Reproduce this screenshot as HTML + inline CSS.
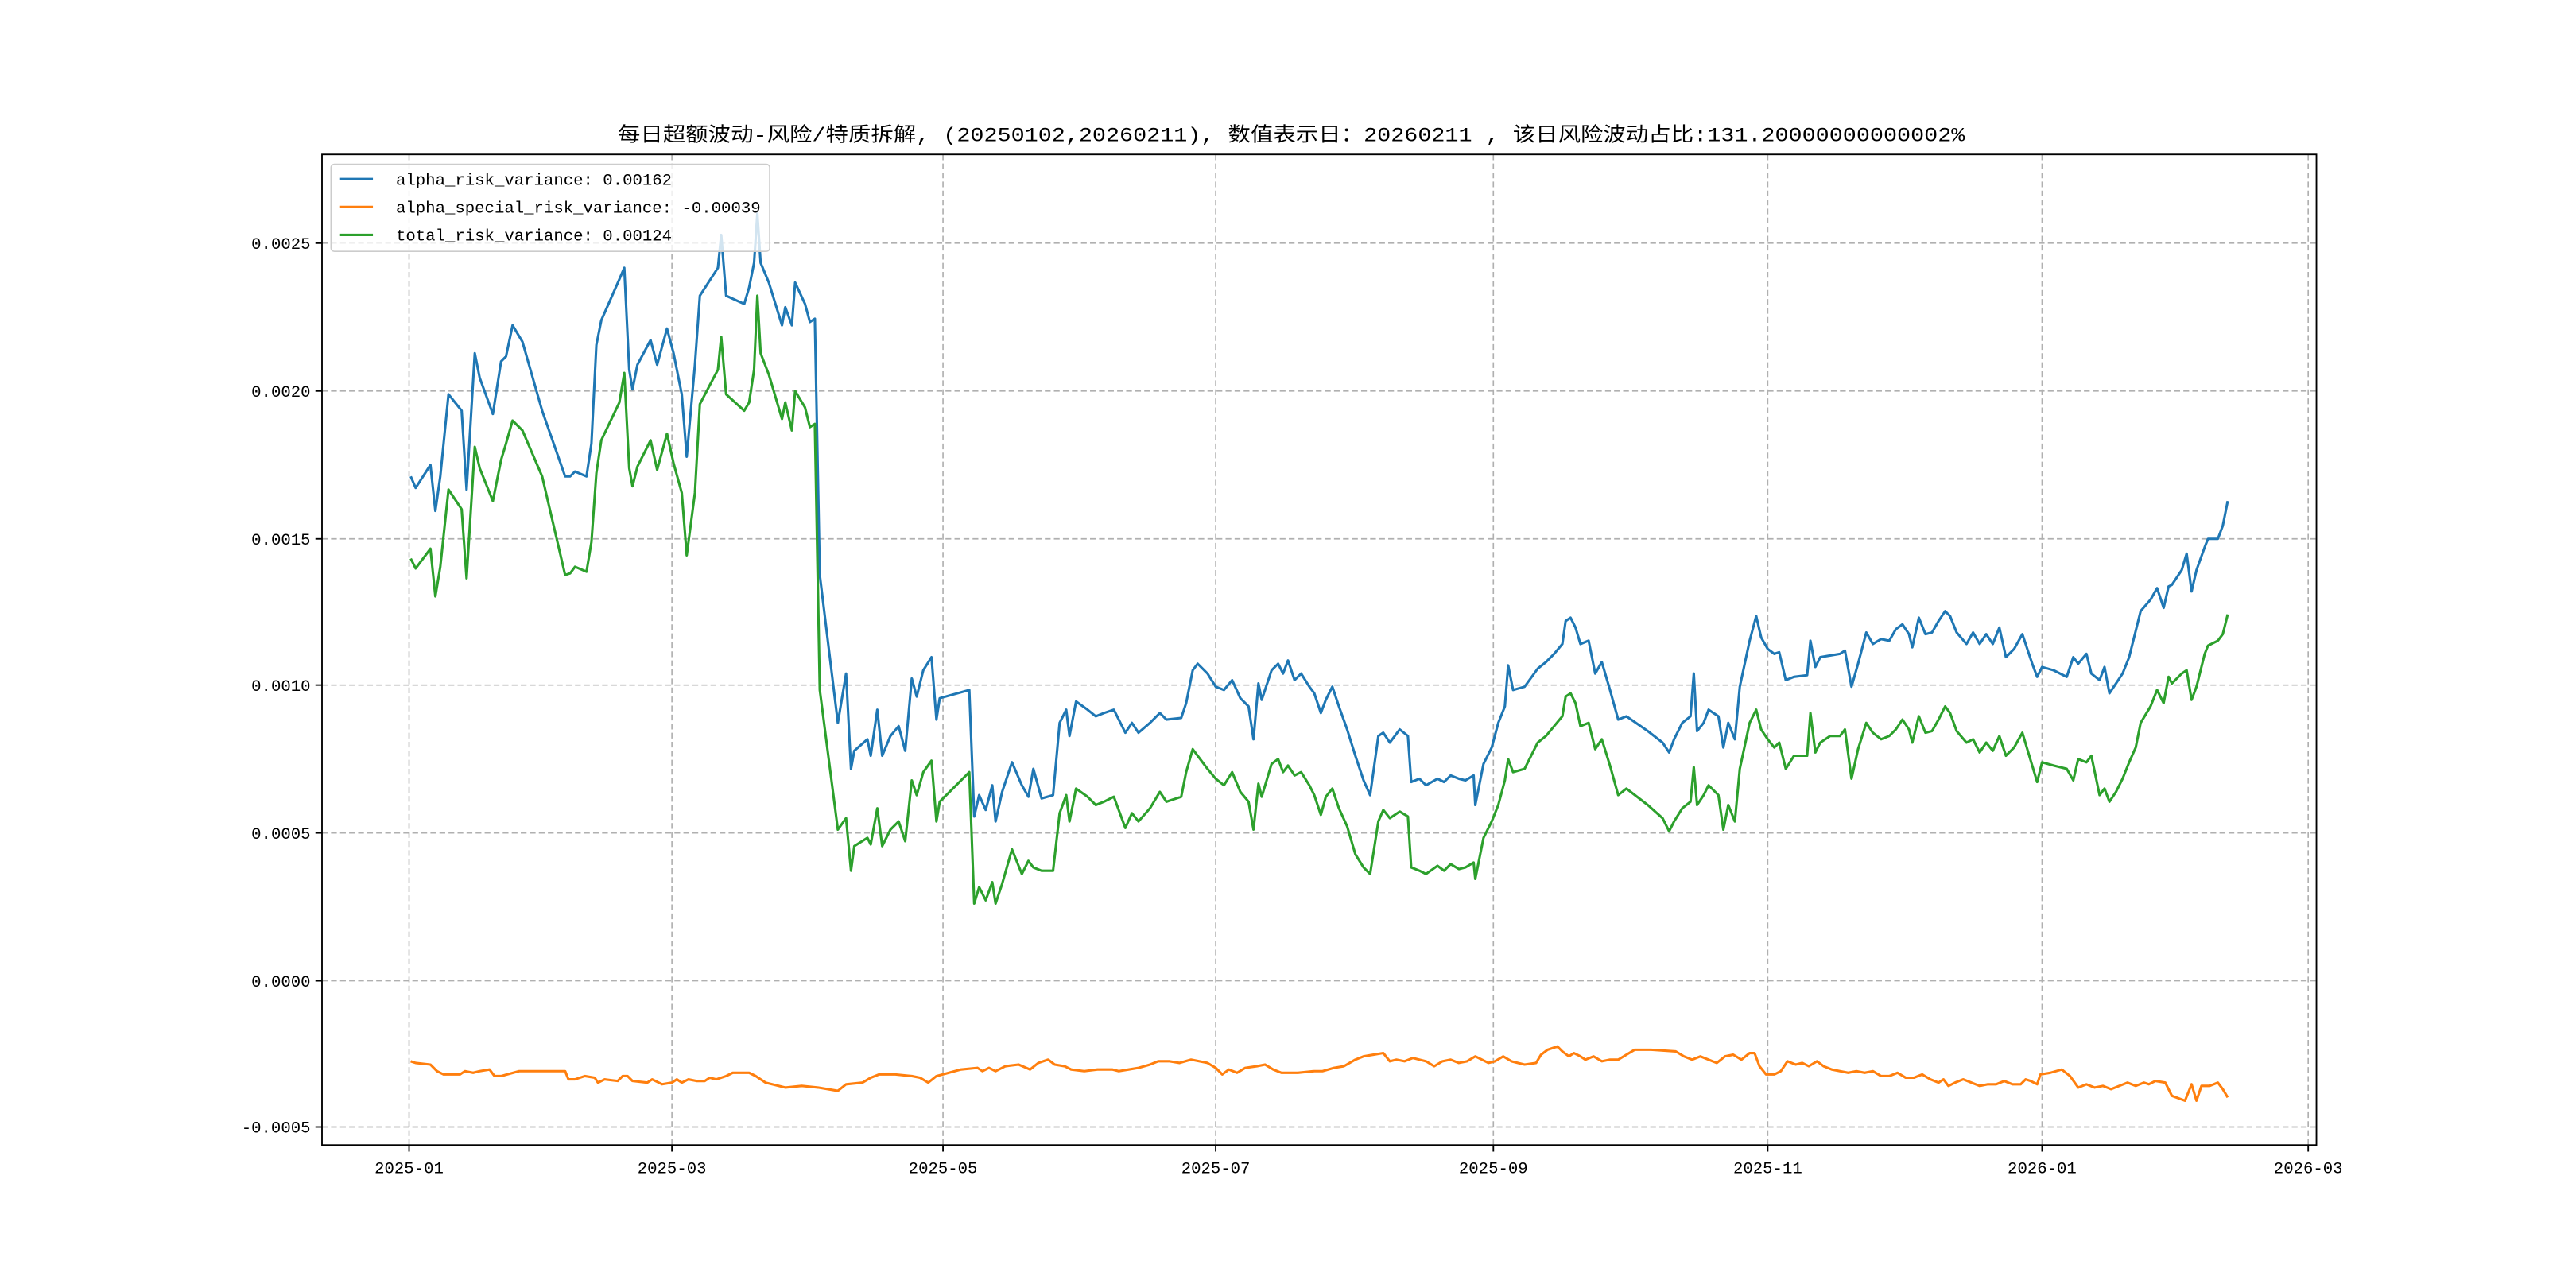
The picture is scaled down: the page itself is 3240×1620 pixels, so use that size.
<!DOCTYPE html>
<html><head><meta charset="utf-8"><style>html,body{margin:0;padding:0;background:#fff}svg{display:block}</style></head><body>
<svg width="3240" height="1620" viewBox="0 0 1568 784" xmlns="http://www.w3.org/2000/svg">
<rect width="1568" height="784" fill="#fff"/>
<g stroke="#b0b0b0" stroke-width="0.8" stroke-dasharray="3.5,2" fill="none">
<line x1="249" y1="94" x2="249" y2="697"/><line x1="409" y1="94" x2="409" y2="697"/><line x1="574" y1="94" x2="574" y2="697"/><line x1="740" y1="94" x2="740" y2="697"/><line x1="909" y1="94" x2="909" y2="697"/><line x1="1076" y1="94" x2="1076" y2="697"/><line x1="1243" y1="94" x2="1243" y2="697"/><line x1="1405" y1="94" x2="1405" y2="697"/>
<line x1="196" y1="148" x2="1410" y2="148"/><line x1="196" y1="238" x2="1410" y2="238"/><line x1="196" y1="328" x2="1410" y2="328"/><line x1="196" y1="417" x2="1410" y2="417"/><line x1="196" y1="507" x2="1410" y2="507"/><line x1="196" y1="597" x2="1410" y2="597"/><line x1="196" y1="686" x2="1410" y2="686"/>
</g>
<g fill="none" stroke-width="1.5" stroke-linejoin="round">
<polyline stroke="#1f77b4" points="250,290 253,297 262,283 265,311 268,290 273,240 281,250 284,298 289,215 292,230 300,252 305,220 308,217 312,198 318,208 330,250 344,290 347,290 350,287 357,290 360,270 363,210 366,195 377,170 380,163 383,225 385,237 388,222 396,207 400,222 406,200 410,215 415,240 418,278 423,222 426,180 437,163 439,143 442,180 453,185 456,175 459,160 461,130 463,160 468,172 476,198 478,187 482,198 484,172 490,185 493,196 496,194 499,350 510,440 515,410 518,468 520,457 528,450 530,460 534,432 537,460 542,448 547,442 551,457 555,413 558,424 562,408 567,400 570,438 572,425 590,420 593,497 596,484 600,493 604,478 606,500 610,482 616,464 622,478 626,485 629,468 634,486 641,484 645,440 649,432 651,448 655,427 662,432 667,436 672,434 678,432 685,446 689,440 693,446 700,440 706,434 710,438 719,437 722,428 726,408 729,404 735,410 740,418 745,420 750,414 755,425 760,430 763,450 766,416 768,426 774,408 778,404 781,410 784,402 788,414 792,410 797,418 800,422 804,434 807,426 811,418 815,430 820,444 825,460 830,475 834,484 839,448 842,446 846,452 852,444 857,448 859,476 864,474 868,478 875,474 879,476 883,472 888,474 892,475 897,472 898,490 903,465 908,455 912,440 916,430 918,405 921,420 928,418 936,407 941,403 946,398 951,392 953,378 956,376 959,382 962,392 967,390 971,410 975,403 980,420 985,438 990,436 1003,445 1012,452 1016,458 1019,450 1024,440 1029,436 1031,410 1033,445 1037,440 1040,432 1046,436 1049,455 1052,440 1056,450 1059,418 1065,390 1069,375 1072,388 1076,395 1080,398 1083,397 1087,414 1092,412 1100,411 1102,390 1105,406 1108,400 1114,399 1120,398 1123,396 1127,418 1131,404 1136,385 1140,392 1145,389 1150,390 1154,383 1158,380 1162,386 1164,394 1168,376 1172,386 1176,385 1180,378 1184,372 1187,375 1191,385 1197,392 1201,385 1205,392 1209,386 1213,392 1217,382 1221,400 1226,395 1231,386 1237,404 1240,412 1243,406 1250,408 1258,412 1262,400 1265,404 1270,398 1273,410 1278,414 1281,406 1284,422 1288,416 1292,410 1296,400 1300,384 1303,372 1309,365 1313,358 1317,370 1320,357 1322,356 1328,347 1331,337 1334,360 1337,347 1342,333 1344,328 1350,328 1353,320 1356,305"/>
<polyline stroke="#ff7f0e" points="250,646 253,647 262,648 266,652 270,654 275,654 280,654 283,652 288,653 292,652 298,651 301,655 305,655 316,652 344,652 346,657 350,657 356,655 362,656 364,659 368,657 376,658 379,655 382,655 385,658 394,659 397,657 403,660 409,659 412,657 415,659 419,657 424,658 429,658 432,656 436,657 442,655 446,653 456,653 460,655 466,659 470,660 478,662 488,661 498,662 510,664 515,660 525,659 530,656 535,654 545,654 555,655 560,656 565,659 570,655 585,651 595,650 598,652 602,650 606,652 612,649 620,648 627,651 632,647 638,645 642,648 648,649 652,651 660,652 668,651 677,651 681,652 687,651 693,650 700,648 705,646 712,646 718,647 725,645 735,647 740,650 744,654 748,651 753,653 758,650 765,649 770,648 775,651 780,653 790,653 800,652 805,652 812,650 818,649 825,645 830,643 836,642 842,641 846,646 850,645 855,646 860,644 868,646 873,649 878,646 883,645 888,647 893,646 898,643 902,645 906,647 910,646 915,643 920,646 928,648 935,647 938,642 942,639 948,637 951,640 955,643 958,641 962,643 965,645 970,643 975,646 980,645 985,645 990,642 995,639 1005,639 1020,640 1025,643 1030,645 1035,643 1040,645 1045,647 1050,643 1055,642 1060,645 1065,641 1068,641 1071,649 1075,654 1080,654 1084,652 1088,646 1093,648 1097,647 1101,649 1106,646 1110,649 1115,651 1120,652 1125,653 1130,652 1135,653 1140,652 1145,655 1150,655 1155,653 1160,656 1165,656 1170,654 1175,657 1180,659 1183,657 1186,661 1190,659 1195,657 1200,659 1205,661 1210,660 1215,660 1220,658 1225,660 1230,660 1233,657 1236,658 1240,660 1242,654 1248,653 1255,651 1260,655 1265,662 1270,660 1275,662 1280,661 1285,663 1290,661 1295,659 1300,661 1305,659 1308,660 1312,658 1318,659 1322,667 1330,670 1334,660 1337,670 1340,661 1345,661 1350,659 1353,663 1356,668"/>
<polyline stroke="#2ca02c" points="250,340 253,346 262,334 265,363 268,345 273,298 281,310 284,352 289,272 292,285 300,305 305,280 308,270 312,256 318,262 330,290 344,350 347,349 350,345 357,348 360,330 363,288 366,268 377,245 380,227 383,285 385,296 388,284 396,268 400,286 406,264 410,282 415,300 418,338 423,300 426,246 437,225 439,205 442,240 453,250 456,245 459,225 461,180 463,215 468,228 476,255 478,245 482,262 484,238 490,248 493,260 496,258 499,420 510,505 515,498 518,530 520,515 528,510 530,514 534,492 537,515 542,505 547,500 551,512 555,475 558,484 562,470 567,463 570,500 572,488 590,470 593,550 596,540 600,548 604,537 606,550 610,538 616,517 622,532 626,524 629,528 634,530 641,530 645,495 649,484 651,500 655,480 662,485 667,490 672,488 678,485 685,504 689,495 693,500 700,492 706,482 710,488 719,485 722,470 726,456 729,460 735,468 740,474 745,478 750,470 755,482 760,488 763,505 766,477 768,485 774,465 778,462 781,470 784,466 788,472 792,470 797,478 800,484 804,496 807,485 811,480 815,492 820,503 825,520 830,528 834,532 839,500 842,493 846,498 852,494 857,497 859,528 864,530 868,532 875,527 879,530 883,526 888,529 892,528 897,525 898,535 903,510 908,500 912,490 916,475 918,462 921,470 928,468 936,452 941,448 946,442 951,436 953,424 956,422 959,428 962,442 967,440 971,456 975,450 980,466 985,484 990,480 1003,490 1012,498 1016,506 1019,500 1024,492 1029,488 1031,467 1033,490 1037,484 1040,478 1046,484 1049,505 1052,490 1056,500 1059,468 1065,440 1069,432 1072,444 1076,450 1080,455 1083,452 1087,468 1092,460 1100,460 1102,434 1105,458 1108,452 1114,448 1120,448 1123,444 1127,474 1131,456 1136,440 1140,446 1145,450 1150,448 1154,444 1158,438 1162,444 1164,452 1168,436 1172,446 1176,445 1180,438 1184,430 1187,434 1191,445 1197,452 1201,450 1205,458 1209,452 1213,457 1217,448 1221,460 1226,455 1231,446 1237,466 1240,476 1243,464 1250,466 1258,468 1262,475 1265,462 1270,464 1273,460 1278,484 1281,480 1284,488 1288,482 1292,474 1296,464 1300,455 1303,440 1309,430 1313,420 1317,428 1320,412 1322,416 1328,410 1331,408 1334,426 1337,418 1342,398 1344,393 1350,390 1353,386 1356,374"/>
</g>
<rect x="196" y="94" width="1214" height="603" fill="none" stroke="#000" stroke-width="0.9"/>
<g stroke="#000" stroke-width="0.9">
<line x1="249" y1="697" x2="249" y2="701"/><line x1="409" y1="697" x2="409" y2="701"/><line x1="574" y1="697" x2="574" y2="701"/><line x1="740" y1="697" x2="740" y2="701"/><line x1="909" y1="697" x2="909" y2="701"/><line x1="1076" y1="697" x2="1076" y2="701"/><line x1="1243" y1="697" x2="1243" y2="701"/><line x1="1405" y1="697" x2="1405" y2="701"/>
<line x1="192" y1="148" x2="196" y2="148"/><line x1="192" y1="238" x2="196" y2="238"/><line x1="192" y1="328" x2="196" y2="328"/><line x1="192" y1="417" x2="196" y2="417"/><line x1="192" y1="507" x2="196" y2="507"/><line x1="192" y1="597" x2="196" y2="597"/><line x1="192" y1="686" x2="196" y2="686"/>
</g>
<g font-family="'Liberation Mono', monospace" font-size="10" fill="#000">
<g text-anchor="middle">
<text x="249" y="714">2025-01</text><text x="409" y="714">2025-03</text><text x="574" y="714">2025-05</text><text x="740" y="714">2025-07</text><text x="909" y="714">2025-09</text><text x="1076" y="714">2025-11</text><text x="1243" y="714">2026-01</text><text x="1405" y="714">2026-03</text>
</g>
<g text-anchor="end">
<text x="189" y="151.5">0.0025</text><text x="189" y="241.5">0.0020</text><text x="189" y="331.5">0.0015</text><text x="189" y="420.5">0.0010</text><text x="189" y="510.5">0.0005</text><text x="189" y="600.5">0.0000</text><text x="189" y="689.5">-0.0005</text>
</g>
</g>
<text x="376" y="86" textLength="820" lengthAdjust="spacingAndGlyphs" font-family="'Liberation Mono','Noto Sans CJK SC',monospace" font-size="12" fill="#000">每日超额波动-风险/特质拆解, (20250102,20260211),  数值表示日：20260211 , 该日风险波动占比:131.20000000000002%</text>
<rect x="201.5" y="100" width="267" height="53" rx="2" fill="#fff" fill-opacity="0.8" stroke="#ccc" stroke-width="0.8"/>
<g stroke-width="1.5"><line x1="207" y1="109" x2="227" y2="109" stroke="#1f77b4"/><line x1="207" y1="126" x2="227" y2="126" stroke="#ff7f0e"/><line x1="207" y1="143" x2="227" y2="143" stroke="#2ca02c"/></g>
<g font-family="'Liberation Mono', monospace" font-size="10" fill="#000">
<text x="241" y="112.5">alpha_risk_variance: 0.00162</text>
<text x="241" y="129.5">alpha_special_risk_variance: -0.00039</text>
<text x="241" y="146.5">total_risk_variance: 0.00124</text>
</g>
</svg>
</body></html>
